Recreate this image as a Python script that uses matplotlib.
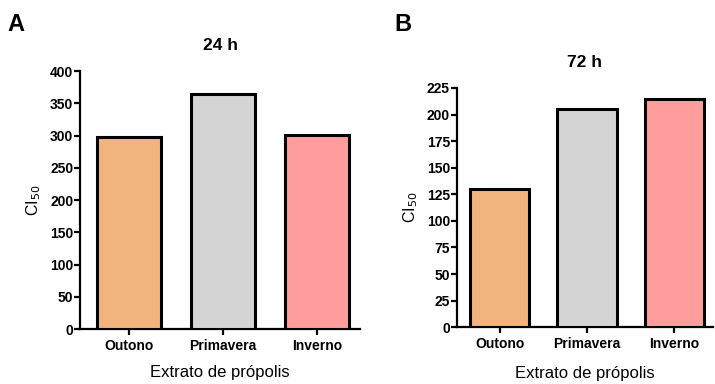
import matplotlib
matplotlib.use("Agg")
import matplotlib.pyplot as plt

plt.rcParams['font.family'] = ['Liberation Sans', 'DejaVu Sans']

# IC50 of propolis extracts by season
categorias = ['Outono', 'Primavera', 'Inverno']
ci50_24h = [297, 364, 301]
ci50_72h = [130, 205, 215]
cores = ['#F0B47C', '#D4D4D4', '#FF9D9D']

fig = plt.figure(figsize=(7.15, 3.84), dpi=100)

ax_a = fig.add_axes([0.112, 0.143, 0.392, 0.672])
ax_b = fig.add_axes([0.639, 0.148, 0.358, 0.623])


def desenha(ax, valores, titulo, ymax, passo, xlim, pad_x):
    x = range(len(categorias))
    ax.bar(x, valores, width=0.68, color=cores, edgecolor='black', linewidth=2.2, zorder=3)
    ax.set_ylim(0, ymax)
    ax.set_xlim(*xlim)
    ax.set_yticks(range(0, ymax + 1, passo))
    ax.set_xticks(list(x))
    ax.set_xticklabels(categorias, fontsize=10, fontweight='bold')
    for lab in ax.get_yticklabels():
        lab.set_fontsize(10)
        lab.set_fontweight('bold')
    ax.spines['top'].set_visible(False)
    ax.spines['right'].set_visible(False)
    ax.spines['left'].set_linewidth(1.6)
    ax.spines['bottom'].set_linewidth(1.6)
    ax.tick_params(axis='y', length=4, width=1.6, pad=1)
    ax.tick_params(axis='x', length=4, width=1.6, pad=3)
    ax.set_ylabel('CI$_{50}$', fontsize=11.5, labelpad=5)
    ax.set_xlabel('Extrato de própolis', fontsize=12, labelpad=pad_x)
    ax.set_title(titulo, fontsize=12.5, fontweight='bold', pad=15)


desenha(ax_a, ci50_24h, '24 h', 400, 50, (-0.52, 2.46), 9)
desenha(ax_b, ci50_72h, '72 h', 225, 25, (-0.49, 2.44), 11)

fig.text(0.011, 0.937, 'A', fontsize=17, fontweight='bold', va='center')
fig.text(0.551, 0.937, 'B', fontsize=17, fontweight='bold', va='center')

fig.savefig('out.png', dpi=100)
